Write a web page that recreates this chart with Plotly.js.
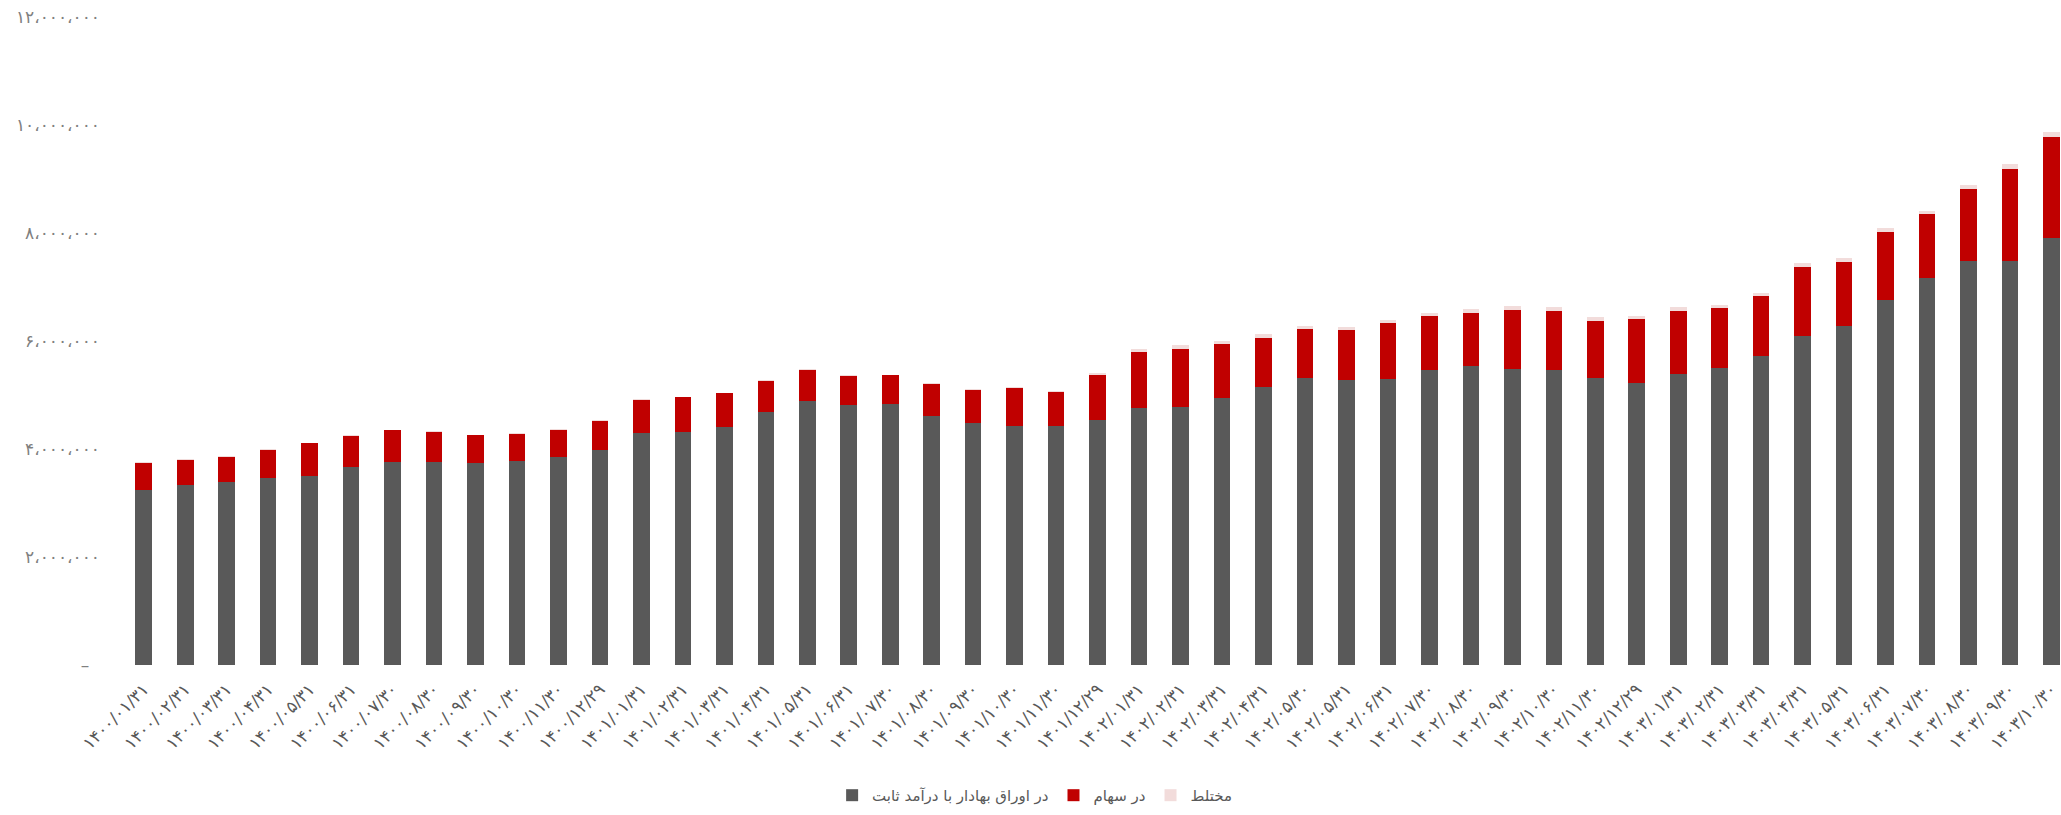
<!DOCTYPE html>
<html>
<head>
<meta charset="utf-8">
<script src="https://cdn.plot.ly/plotly-3.0.1.min.js"></script>
<style>
html,body{margin:0;padding:0;background:#fff;}
#chart{width:2061px;height:815px;}
</style>
</head>
<body>
<div id="chart"></div>
<script>
const categories = [
 "۱۴۰۰/۰۱/۳۱","۱۴۰۰/۰۲/۳۱","۱۴۰۰/۰۳/۳۱","۱۴۰۰/۰۴/۳۱","۱۴۰۰/۰۵/۳۱","۱۴۰۰/۰۶/۳۱",
 "۱۴۰۰/۰۷/۳۰","۱۴۰۰/۰۸/۳۰","۱۴۰۰/۰۹/۳۰","۱۴۰۰/۱۰/۳۰","۱۴۰۰/۱۱/۳۰","۱۴۰۰/۱۲/۲۹",
 "۱۴۰۱/۰۱/۳۱","۱۴۰۱/۰۲/۳۱","۱۴۰۱/۰۳/۳۱","۱۴۰۱/۰۴/۳۱","۱۴۰۱/۰۵/۳۱","۱۴۰۱/۰۶/۳۱",
 "۱۴۰۱/۰۷/۳۰","۱۴۰۱/۰۸/۳۰","۱۴۰۱/۰۹/۳۰","۱۴۰۱/۱۰/۳۰","۱۴۰۱/۱۱/۳۰","۱۴۰۱/۱۲/۲۹",
 "۱۴۰۲/۰۱/۳۱","۱۴۰۲/۰۲/۳۱","۱۴۰۲/۰۳/۳۱","۱۴۰۲/۰۴/۳۱","۱۴۰۲/۰۵/۳۰","۱۴۰۲/۰۵/۳۱",
 "۱۴۰۲/۰۶/۳۱","۱۴۰۲/۰۷/۳۰","۱۴۰۲/۰۸/۳۰","۱۴۰۲/۰۹/۳۰","۱۴۰۲/۱۰/۳۰","۱۴۰۲/۱۱/۳۰",
 "۱۴۰۲/۱۲/۲۹","۱۴۰۳/۰۱/۳۱","۱۴۰۳/۰۲/۳۱","۱۴۰۳/۰۳/۳۱","۱۴۰۳/۰۴/۳۱","۱۴۰۳/۰۵/۳۱",
 "۱۴۰۳/۰۶/۳۱","۱۴۰۳/۰۷/۳۰","۱۴۰۳/۰۸/۳۰","۱۴۰۳/۰۹/۳۰","۱۴۰۳/۱۰/۳۰"
];

// در اوراق بهادار با درآمد ثابت
const fixedIncome = [
 3241000,3333000,3389000,3457000,3500000,3673000,3765000,3765000,3741000,3778000,3858000,3981000,
 4302000,4309000,4407000,4679000,4895000,4809000,4827000,4611000,4475000,4420000,4426000,4531000,
 4759000,4784000,4938000,5148000,5315000,5278000,5296000,5463000,5531000,5475000,5463000,5315000,
 5228000,5395000,5500000,5722000,6093000,6278000,6759000,7167000,7481000,7481000,7913000
];
// در سهام
const stocks = [
 494000,457000,469000,518000,605000,562000,581000,544000,512000,500000,494000,538000,
 605000,648000,624000,586000,574000,537000,537000,587000,612000,704000,624000,845000,
 1043000,1074000,1012000,913000,913000,926000,1031000,1000000,993000,1105000,1098000,1061000,
 1173000,1166000,1105000,1105000,1277000,1191000,1260000,1179000,1339000,1710000,1859000
];
// مختلط
const mixed = [
 19000,19000,12000,25000,12000,18000,10000,18000,12000,12000,12000,12000,
 19000,12000,12000,19000,13000,18000,10000,24000,24000,24000,30000,31000,
 56000,62000,56000,62000,56000,55000,62000,61000,69000,68000,69000,68000,
 68000,62000,62000,68000,69000,68000,68000,67000,69000,81000,98000
];

const seriesNames = ["در اوراق بهادار با درآمد ثابت","در سهام","مختلط"];
const yTickVals = [0,2000000,4000000,6000000,8000000,10000000,12000000];
const yTickText = ["–\u00a0\u00a0","۲،۰۰۰،۰۰۰","۴،۰۰۰،۰۰۰","۶،۰۰۰،۰۰۰","۸،۰۰۰،۰۰۰","۱۰،۰۰۰،۰۰۰","۱۲،۰۰۰،۰۰۰"];

const FONT = "'DejaVu Sans', 'Noto Sans', sans-serif";
const colors = ["#595959","#C00000","#F2DCDB"];

const traces = [fixedIncome, stocks, mixed].map((vals, i) => ({
  type: "bar",
  name: seriesNames[i],
  x: categories,
  y: vals,
  marker: {color: colors[i], line: {width: 0}},
  hoverinfo: "none"
}));

const layout = {
  width: 2061,
  height: 815,
  margin: {l: 123, r: 0, t: 17, b: 150, pad: 0},
  paper_bgcolor: "#ffffff",
  plot_bgcolor: "#ffffff",
  barmode: "stack",
  bargap: 0.6,
  font: {family: FONT, color: "#595959"},
  xaxis: {
    type: "category",
    range: [-0.5, 46.23],
    tickangle: -45,
    showgrid: false,
    zeroline: false,
    showline: false,
    ticks: "",
    ticklabelstandoff: 10,
    tickfont: {family: FONT, size: 17, color: "#595959"},
    fixedrange: true
  },
  yaxis: {
    range: [0, 12000000],
    tickvals: yTickVals,
    ticktext: yTickText,
    showgrid: false,
    zeroline: false,
    showline: false,
    ticks: "",
    ticklabelstandoff: 22,
    tickfont: {family: FONT, size: 17, color: "#808080"},
    fixedrange: true
  },
  showlegend: true,
  legend: {
    orientation: "h",
    traceorder: "normal",
    xref: "container",
    yref: "container",
    x: 0.502,
    xanchor: "center",
    y: 0.024,
    yanchor: "middle",
    font: {family: FONT, size: 15, color: "#595959"},
    bgcolor: "rgba(0,0,0,0)"
  }
};

Plotly.newPlot("chart", traces, layout, {displayModeBar: false, staticPlot: true});
</script>
</body>
</html>
